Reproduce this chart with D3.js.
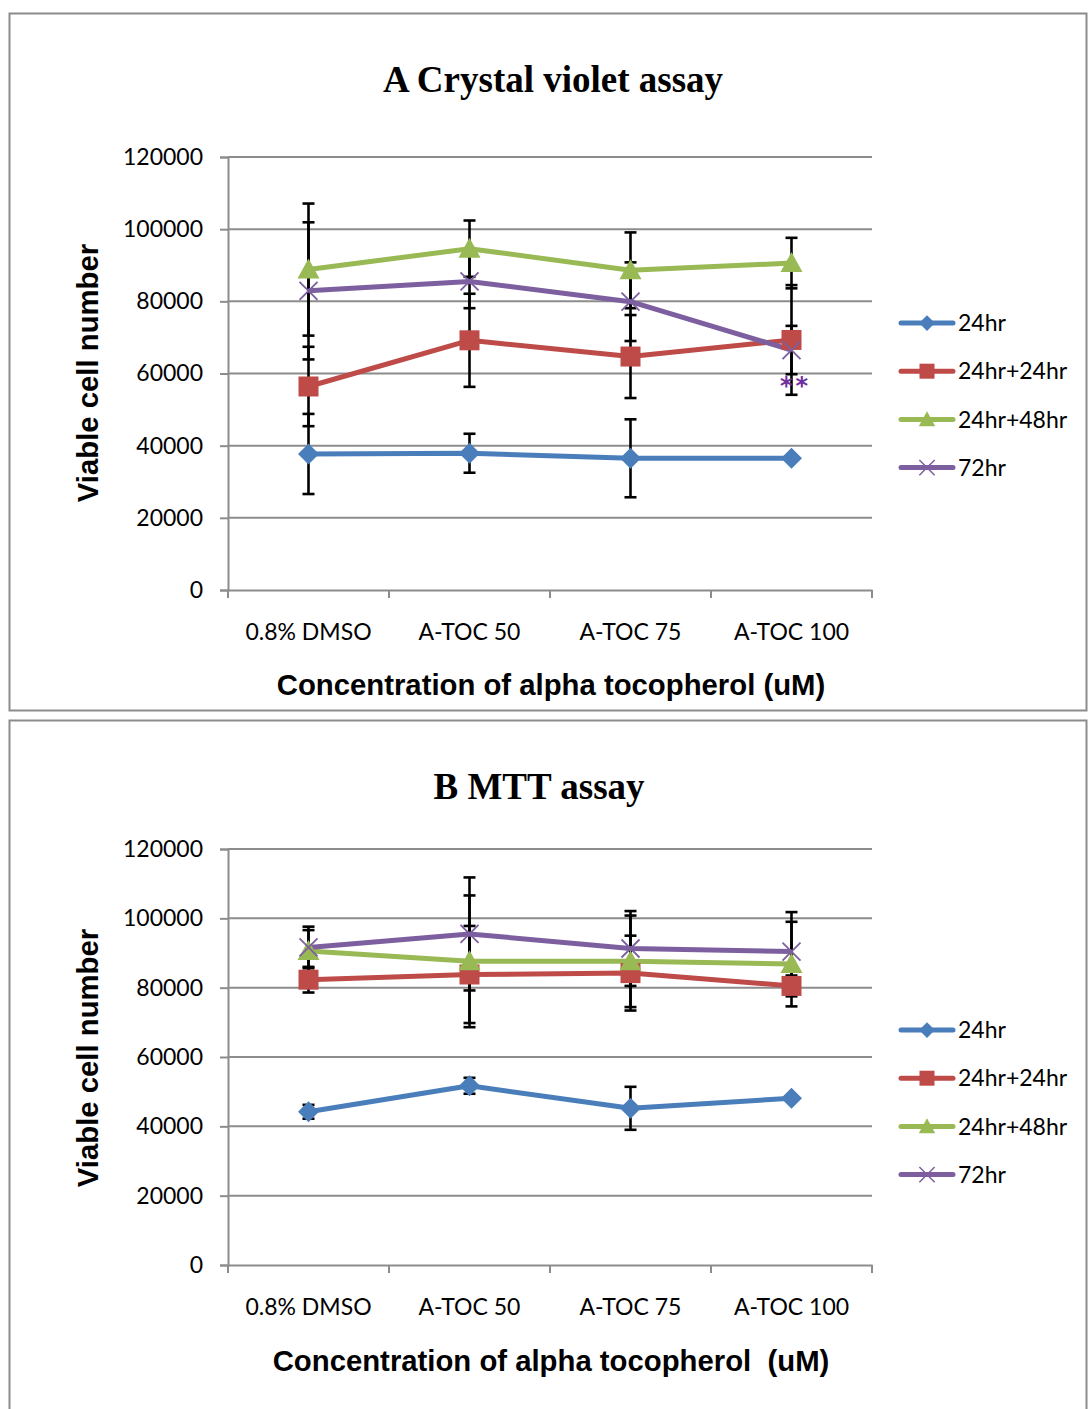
<!DOCTYPE html>
<html>
<head>
<meta charset="utf-8">
<script src="https://cdn.jsdelivr.net/npm/d3@7"></script>
<style>
  html, body { margin: 0; padding: 0; background: #ffffff; }
  svg { display: block; }
</style>
</head>
<body>
<svg id="chart" width="1088" height="1409"></svg>
<script>
// ---------- DATA ----------
const categories = ["0.8% DMSO", "A-TOC 50", "A-TOC 75", "A-TOC 100"];
const seriesNames = ["24hr", "24hr+24hr", "24hr+48hr", "72hr"];
const yTicks = [0, 20000, 40000, 60000, 80000, 100000, 120000];

// Panel A: Crystal violet assay
const cv24 = [37700, 37900, 36500, 36500];
const cv24Err = [11100, 5400, 10800, 0];
const cv24p24 = [56400, 69200, 64700, 69300];
const cv24p24Err = [11000, 12900, 11500, 15200];
const cv24p48 = [88800, 94600, 88600, 90600];
const cv24p48Err = [18300, 7800, 10500, 7000];
const cv72 = [82900, 85500, 79900, 66500];
const cv72Err = [19000, 7400, 10900, 6700];

// Panel B: MTT assay
const mtt24 = [44200, 51700, 45200, 48100];
const mtt24Err = [2000, 2300, 6200, 0];
const mtt24p24 = [82300, 83800, 84200, 80500];
const mtt24p24Err = [3700, 14000, 10800, 3000];
const mtt24p48 = [90600, 87600, 87600, 86800];
const mtt24p48Err = [6000, 19000, 13200, 12200];
const mtt72 = [91600, 95500, 91300, 90400];
const mtt72Err = [6000, 16300, 10800, 11400];

const colors = ["#4A7EBB", "#BE4B48", "#98B954", "#7D5FA0"];
const markers = ["diamond", "square", "triangle", "cross"];

const svg = d3.select("#chart");

function markerPath(type) {
  if (type === "diamond") return "M0,-10.5L10.5,0L0,10.5L-10.5,0Z";
  if (type === "square") return "M-10,-10H10V10H-10Z";
  if (type === "triangle") return "M0,-11L11,9H-11Z";
  return "M-9,-9L9,9M-9,9L9,-9";
}

function drawMarker(g, type, color, x, y, scale) {
  const p = g.append("path")
    .attr("d", markerPath(type))
    .attr("transform", `translate(${x},${y}) scale(${scale || 1})`);
  if (type === "cross") {
    p.attr("fill", "none").attr("stroke", color).attr("stroke-width", 1.8);
  } else {
    p.attr("fill", color).attr("stroke", "none");
  }
}

function drawPanel(cfg) {
  const g = svg.append("g");
  // panel border
  g.append("rect")
    .attr("x", 9.5).attr("y", cfg.boxTop + 0.5)
    .attr("width", 1077).attr("height", cfg.boxH)
    .attr("fill", "#fff").attr("stroke", "#8c8c8c").attr("stroke-width", 2);

  const x = d3.scaleBand().domain(categories).range([228, 872]).padding(0);
  const y = d3.scaleLinear().domain([0, 120000]).range([cfg.y0, cfg.y1]);

  // title
  g.append("text")
    .attr("x", cfg.titleX).attr("y", cfg.titleY)
    .attr("text-anchor", "middle")
    .attr("font-family", "'Liberation Serif', 'Times New Roman', serif")
    .attr("font-weight", "bold").attr("font-size", 37)
    .text(cfg.title);

  // gridlines
  g.append("g").selectAll("line").data(yTicks.filter(d => d > 0)).join("line")
    .attr("x1", 228).attr("x2", 872)
    .attr("y1", d => y(d)).attr("y2", d => y(d))
    .attr("stroke", "#8c8c8c").attr("stroke-width", 2);

  // y axis
  const yAxis = g.append("g").attr("transform", "translate(228,0)")
    .call(d3.axisLeft(y).tickValues(yTicks).tickSize(8).tickPadding(17).tickFormat(d3.format("d")));
  yAxis.select(".domain").attr("stroke", "#8c8c8c").attr("stroke-width", 2);
  yAxis.selectAll(".tick line").attr("stroke", "#8c8c8c").attr("stroke-width", 2);
  yAxis.selectAll(".tick text")
    .attr("font-family", "Lato, 'Open Sans', sans-serif").attr("font-size", 23)
    .attr("fill", "#000");

  // x axis
  const xAxis = g.append("g").attr("transform", `translate(0,${cfg.y0})`)
    .call(d3.axisBottom(x).tickSize(0).tickPadding(34));
  xAxis.select(".domain").attr("stroke", "#8c8c8c").attr("stroke-width", 2);
  xAxis.selectAll(".tick text")
    .attr("font-family", "Lato, 'Open Sans', sans-serif").attr("font-size", 23)
    .attr("fill", "#000");
  // category boundary ticks
  const bounds = categories.map(c => x(c)).concat([x.range()[1]]);
  g.append("g").selectAll("line").data(bounds).join("line")
    .attr("x1", d => d).attr("x2", d => d)
    .attr("y1", cfg.y0).attr("y2", cfg.y0 + 8)
    .attr("stroke", "#8c8c8c").attr("stroke-width", 2);

  // axis titles
  g.append("text")
    .attr("x", 551).attr("y", cfg.xTitleY)
    .attr("text-anchor", "middle")
    .attr("font-family", "'Liberation Sans', Arial, sans-serif")
    .attr("font-weight", "bold").attr("font-size", 29.3)
    .style("white-space", "pre")
    .text(cfg.xTitle);
  g.append("text")
    .attr("transform", `translate(98,${cfg.yTitleC}) rotate(-90)`)
    .attr("text-anchor", "middle")
    .attr("font-family", "'Liberation Sans', Arial, sans-serif")
    .attr("font-weight", "bold").attr("font-size", 29.3)
    .text("Viable cell number");

  const cx = c => x(c) + x.bandwidth() / 2;

  // error bars (behind lines)
  const eb = g.append("g").attr("stroke", "#000").attr("stroke-width", 2.6);
  cfg.series.forEach(s => {
    s.values.forEach((v, i) => {
      const e = s.errs[i];
      if (!e) return;
      const xc = cx(categories[i]);
      eb.append("line").attr("x1", xc).attr("x2", xc).attr("y1", y(v - e)).attr("y2", y(v + e));
      eb.append("line").attr("x1", xc - 6).attr("x2", xc + 6).attr("y1", y(v - e)).attr("y2", y(v - e));
      eb.append("line").attr("x1", xc - 6).attr("x2", xc + 6).attr("y1", y(v + e)).attr("y2", y(v + e));
    });
  });

  // lines + markers
  const line = d3.line().x((d, i) => cx(categories[i])).y(d => y(d));
  cfg.series.forEach((s, si) => {
    g.append("path").datum(s.values)
      .attr("d", line).attr("fill", "none")
      .attr("stroke", colors[si]).attr("stroke-width", 5)
      .attr("stroke-linejoin", "round");
  });
  cfg.series.forEach((s, si) => {
    const mg = g.append("g");
    s.values.forEach((v, i) => drawMarker(mg, markers[si], colors[si], cx(categories[i]), y(v)));
  });

  if (cfg.annotation) {
    g.append("text")
      .attr("x", cx(categories[cfg.annotation.index]) + 4)
      .attr("y", y(cfg.annotation.value))
      .attr("text-anchor", "middle")
      .attr("font-family", "'DejaVu Sans', sans-serif").attr("font-size", 24)
      .attr("font-weight", "bold")
      .attr("letter-spacing", 3)
      .attr("fill", "#7030A0")
      .text(cfg.annotation.text);
  }

  // legend
  const lg = g.append("g");
  seriesNames.forEach((name, i) => {
    const ly = cfg.legendTop + i * 48.2;
    lg.append("line").attr("x1", 901).attr("x2", 953).attr("y1", ly).attr("y2", ly)
      .attr("stroke", colors[i]).attr("stroke-width", 5).attr("stroke-linecap", "round");
    drawMarker(lg, markers[i], colors[i], 927, ly, markers[i] === "cross" ? 0.85 : 0.75);
    lg.append("text").attr("x", 958).attr("y", ly).attr("dy", "0.36em")
      .attr("font-family", "Lato, 'Open Sans', sans-serif").attr("font-size", 23)
      .attr("fill", "#000").text(name);
  });
}

drawPanel({
  boxTop: 13, boxH: 697,
  y0: 590, y1: 157,
  title: "A Crystal violet assay", titleX: 553, titleY: 92,
  xTitle: "Concentration of alpha tocopherol (uM)", xTitleY: 695,
  yTitleC: 373,
  legendTop: 323,
  series: [
    { values: cv24, errs: cv24Err },
    { values: cv24p24, errs: cv24p24Err },
    { values: cv24p48, errs: cv24p48Err },
    { values: cv72, errs: cv72Err }
  ],
  annotation: { index: 3, value: 54200, text: "**" }
});

drawPanel({
  boxTop: 720, boxH: 720,
  y0: 1265, y1: 849,
  title: "B MTT assay", titleX: 539, titleY: 799,
  xTitle: "Concentration of alpha tocopherol  (uM)", xTitleY: 1371,
  yTitleC: 1058,
  legendTop: 1030,
  series: [
    { values: mtt24, errs: mtt24Err },
    { values: mtt24p24, errs: mtt24p24Err },
    { values: mtt24p48, errs: mtt24p48Err },
    { values: mtt72, errs: mtt72Err }
  ]
});
</script>
</body>
</html>
